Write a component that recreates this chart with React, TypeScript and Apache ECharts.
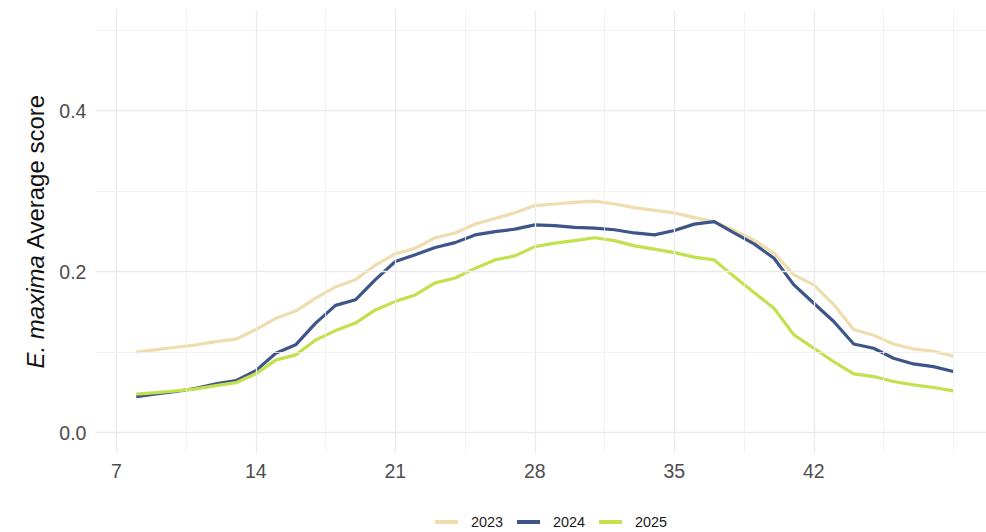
import React, { useEffect, useRef } from "react";
import * as echarts from "echarts";

const weeks = [8, 9, 10, 11, 12, 13, 14, 15, 16, 17, 18, 19, 20, 21, 22, 23, 24, 25, 26, 27, 28, 29, 30, 31, 32, 33, 34, 35, 36, 37, 38, 39, 40, 41, 42, 43, 44, 45, 46, 47, 48, 49];

const s2023 = [0.100, 0.103, 0.106, 0.109, 0.113, 0.116, 0.128, 0.142, 0.151, 0.167, 0.181, 0.190, 0.208, 0.222, 0.229, 0.242, 0.248, 0.259, 0.266, 0.273, 0.282, 0.284, 0.286, 0.2875, 0.284, 0.2795, 0.276, 0.273, 0.267, 0.262, 0.251, 0.239, 0.223, 0.196, 0.1835, 0.159, 0.128, 0.121, 0.110, 0.104, 0.101, 0.095];
const s2024 = [0.0447, 0.048, 0.051, 0.055, 0.0605, 0.0646, 0.077, 0.0986, 0.109, 0.136, 0.158, 0.165, 0.190, 0.2125, 0.221, 0.230, 0.236, 0.2456, 0.2497, 0.2527, 0.258, 0.257, 0.255, 0.254, 0.252, 0.248, 0.2456, 0.251, 0.259, 0.262, 0.248, 0.2344, 0.2166, 0.1835, 0.1607, 0.138, 0.110, 0.1048, 0.0924, 0.0853, 0.082, 0.0758];
const s2025 = [0.0477, 0.0497, 0.0518, 0.0543, 0.0584, 0.062, 0.073, 0.090, 0.0965, 0.115, 0.1267, 0.136, 0.1524, 0.163, 0.171, 0.186, 0.192, 0.204, 0.2145, 0.2195, 0.231, 0.2353, 0.2385, 0.242, 0.2385, 0.232, 0.228, 0.2236, 0.218, 0.2145, 0.194, 0.174, 0.1545, 0.1214, 0.1048, 0.088, 0.073, 0.0696, 0.0634, 0.0593, 0.056, 0.0518];

const seriesNames = ["2023", "2024", "2025"];
const seriesColors = ["#EFDDAF", "#3D5588", "#C3E04E"];

const xMajor = [7, 14, 21, 28, 35, 42];
const xMinor = [10.5, 17.5, 24.5, 31.5, 38.5, 45.5, 49];
const yMajor = [0, 0.2, 0.4];
const yMinor = [0.1, 0.3, 0.5];

const FONT = "'Liberation Sans', Arial, Helvetica, sans-serif";

export default function App() {
  const ref = useRef<HTMLDivElement>(null);
  useEffect(() => {
    if (!ref.current) return;
    const chart = echarts.init(ref.current, null, { renderer: "svg" });
    const majorStyle = { color: "#EBEBEB", width: 1.3, type: "solid" as const };
    const minorStyle = { color: "#EFEFEF", width: 0.8, type: "solid" as const };
    const gridLines = [
      ...xMajor.map((v) => ({ xAxis: v, lineStyle: majorStyle })),
      ...xMinor.map((v) => ({ xAxis: v, lineStyle: minorStyle })),
      ...yMajor.map((v) => ({ yAxis: v, lineStyle: majorStyle })),
      ...yMinor.map((v) => ({ yAxis: v, lineStyle: minorStyle })),
    ];
    const all = [s2023, s2024, s2025];
    chart.setOption({
      animation: false,
      backgroundColor: "#FFFFFF",
      textStyle: { fontFamily: FONT },
      grid: { left: 95.4, right: 0, top: 10, bottom: 79.3, containLabel: false },
      xAxis: {
        type: "value",
        min: 5.95,
        max: 50.64,
        axisLine: { show: false },
        axisTick: { show: false },
        splitLine: { show: false },
        axisLabel: {
          customValues: xMajor,
          color: "#4D4D4D",
          fontSize: 19.5,
          fontFamily: FONT,
          margin: 8,
          formatter: (v: number) => String(v),
        },
      },
      yAxis: {
        type: "value",
        min: -0.025,
        max: 0.525,
        axisLine: { show: false },
        axisTick: { show: false },
        splitLine: { show: false },
        axisLabel: {
          customValues: yMajor,
          color: "#4D4D4D",
          fontSize: 19.5,
          fontFamily: FONT,
          margin: 9,
          formatter: (v: number) => v.toFixed(1),
        },
        name: "{i|E. maxima} Average score",
        nameLocation: "middle",
        nameRotate: 90,
        nameGap: 48,
        nameTextStyle: {
          fontSize: 24,
          color: "#111111",
          fontFamily: FONT,
          rich: {
            i: { fontStyle: "italic", fontSize: 24, color: "#111111", fontFamily: FONT },
          },
        },
      },
      legend: {
        data: seriesNames,
        left: 430,
        top: 510,
        icon: "rect",
        itemWidth: 23,
        itemHeight: 4,
        itemGap: 14,
        textStyle: { fontSize: 14.4, color: "#1A1A1A", fontFamily: FONT, padding: [0, 0, 0, 8] },
        selectedMode: false,
      },
      series: [
        {
          type: "line",
          name: "__grid",
          data: [],
          z: 1,
          silent: true,
          markLine: {
            silent: true,
            symbol: ["none", "none"],
            label: { show: false },
            emphasis: { disabled: true },
            data: gridLines,
          },
        },
        ...seriesNames.map((name, i) => ({
          type: "line",
          name,
          z: 3,
          data: weeks.map((w, j) => [w, all[i][j]]),
          showSymbol: false,
          symbol: "none",
          smooth: false,
          lineStyle: { color: seriesColors[i], width: 3.2 },
          itemStyle: { color: seriesColors[i] },
          emphasis: { disabled: true },
        })),
      ],
    });
    return () => chart.dispose();
  }, []);
  return (
    <div
      ref={ref}
      style={{ position: "fixed", left: 0, top: 0, width: 986, height: 532 }}
    />
  );
}
